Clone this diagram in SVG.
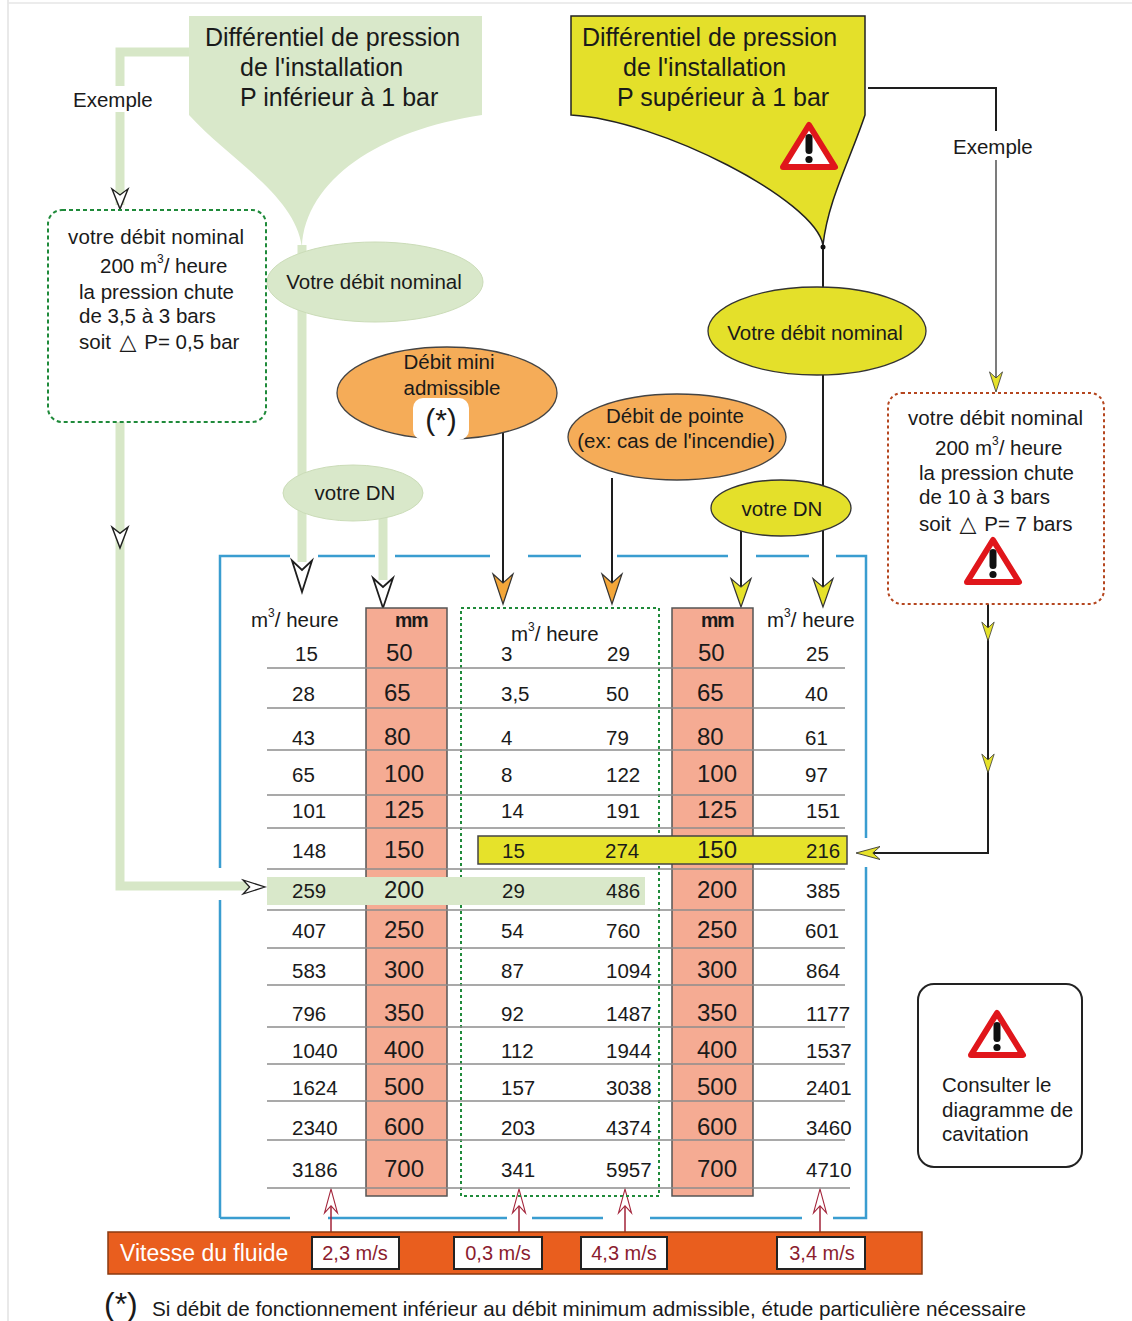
<svg xmlns="http://www.w3.org/2000/svg" width="1132" height="1321" viewBox="0 0 1132 1321">
<style>
text{font-family:"Liberation Sans",Arial,"DejaVu Sans",sans-serif;fill:#1a1a1a}
.t{font-size:20.5px}
.ttl{font-size:25px}
.big{font-size:24px}
.mm{font-size:19.5px;font-weight:bold;letter-spacing:-1px}
.mid{text-anchor:middle}
.gfill{fill:#d9e8ca}
.gline{stroke:#d7e7c7;stroke-width:9;fill:none}
.bline{stroke:#1e1e1e;stroke-width:2;fill:none}
.glin{stroke:#6e6e6e;stroke-width:1.8;fill:none}
.rline{stroke:#a3243a;stroke-width:1.5;fill:none}
.hollow{fill:#fff;stroke:#1e1e1e;stroke-width:1.8}
.ora{fill:#f4a73a;stroke:#333;stroke-width:1.2}
.yel{fill:#e6e22a;stroke:#333;stroke-width:1.2}
.redh{fill:#fff;stroke:#a3243a;stroke-width:1.6}
.blue{stroke:#3a9dd0;stroke-width:2.5;fill:none}
.row{stroke:#8c8c8c;stroke-width:1.5}
.salmon{fill:#f5ab93;stroke:#555;stroke-width:1.5}
.ms{font-size:20px;fill:#8b1c2e;text-anchor:middle}
.msbox{fill:#fff;stroke:#222;stroke-width:2}
.tri{font-size:22px}
</style>
<defs>
<path id="ah" d="M0,0 L-10,-30 L0,-21 L10,-30 Z"/>
<g id="warn">
<path d="M0,-21 L26,21 L-26,21 Z" fill="#fff" stroke="#e0161b" stroke-width="6" stroke-linejoin="round"/>
<rect x="-3.5" y="-12" width="7" height="20" rx="3.5" fill="#111"/>
<circle cx="0" cy="13.5" r="3.6" fill="#111"/>
</g>
</defs>
<rect width="1132" height="1321" fill="#fff"/>
<line x1="8" y1="0" x2="8" y2="1321" stroke="#e2e2e2" stroke-width="1.5"/>
<line x1="8" y1="3" x2="1132" y2="3" stroke="#e6e6e6" stroke-width="1.5"/>

<!-- blue frame -->
<g id="frame">
<path class="blue" d="M220,1218 V900 M220,868 V556 H290 M318,556 H375 M395,556 H490 M528,556 H581 M617,556 H728 M756,556 H809 M836,556 H866 V838 M866,867 V1218 H833 M802,1218 H650 M603,1218 H532 M507,1218 H328 M290,1218 H220"/>
</g>

<!-- connectors -->
<g id="connectors">
<path class="gline" d="M189,52 H120 V205"/>
<path class="gline" d="M120,422 V886 H250"/>
<path class="gline" d="M302,245 V562"/>
<path class="gline" d="M383,515 V580"/>
<path class="bline" d="M503,430 V600"/>
<path class="bline" d="M612,478 V600"/>
<path class="bline" d="M823,245 V600"/>
<path class="bline" d="M741,530 V600"/>
<path class="bline" d="M868,88 H996 V131"/>
<path class="glin" d="M996,160 V388"/>
<path class="bline" d="M988,604 V853 H862"/>
<path class="rline" d="M331,1237 V1192 M519,1237 V1192 M625,1237 V1192 M820,1237 V1192"/>
<use href="#ah" class="hollow" transform="translate(120,209) scale(0.8,0.67)"/>
<use href="#ah" class="hollow" transform="translate(120,548) scale(0.8,0.7)"/>
<use href="#ah" class="hollow" transform="translate(265,887) rotate(-90) scale(0.7,0.73)"/>
<use href="#ah" class="hollow" transform="translate(302,592) scale(1,1.05)"/>
<use href="#ah" class="hollow" transform="translate(383,608) scale(1,1)"/>
<use href="#ah" class="ora" transform="translate(503,604)"/>
<use href="#ah" class="ora" transform="translate(612,604)"/>
<use href="#ah" class="yel" transform="translate(741,607) scale(1,0.95)"/>
<use href="#ah" class="yel" transform="translate(823,607) scale(1,0.95)"/>
<use href="#ah" class="yel" transform="translate(996,392) scale(0.65,0.67)"/>
<use href="#ah" class="yel" transform="translate(988,641) scale(0.62,0.63)"/>
<use href="#ah" class="yel" transform="translate(988,773) scale(0.62,0.63)"/>
<use href="#ah" class="yel" transform="translate(856,853) rotate(90) scale(0.65,0.8)"/>
<use href="#ah" class="redh" transform="translate(331,1189) rotate(180) scale(0.65,0.8)"/>
<use href="#ah" class="redh" transform="translate(519,1189) rotate(180) scale(0.65,0.8)"/>
<use href="#ah" class="redh" transform="translate(625,1189) rotate(180) scale(0.65,0.8)"/>
<use href="#ah" class="redh" transform="translate(820,1189) rotate(180) scale(0.65,0.8)"/>
<rect x="68" y="86" width="90" height="26" fill="#fff"/>
<text class="t" x="73" y="107">Exemple</text>
<text class="t" x="953" y="154">Exemple</text>
</g>

<!-- funnel low pressure -->
<g id="funnel-low">
<path class="gfill" d="M189,16 H482 V115 C380,130 305,180 302,247 C295,195 230,160 189,115 Z"/>
<text class="ttl" x="205" y="46">Différentiel de pression</text>
<text class="ttl" x="240" y="76">de l'installation</text>
<text class="ttl" x="240" y="106">P inférieur à 1 bar</text>
</g>

<!-- funnel high pressure -->
<g id="funnel-high">
<path d="M571,16 H865 V115 C850,160 828,200 823,245 C815,200 660,120 571,115 Z" fill="#e4e02a" stroke="#222" stroke-width="1.5"/>
<circle cx="823" cy="247" r="2.5" fill="#111"/>
<text class="ttl" x="582" y="46">Différentiel de pression</text>
<text class="ttl" x="623" y="76">de l'installation</text>
<text class="ttl" x="617" y="106">P supérieur à 1 bar</text>
<use href="#warn" transform="translate(809,146)"/>
</g>

<g id="nominal-low">
<ellipse cx="375" cy="282" rx="108" ry="40" fill="#d9e8ca" stroke="#cbdcb8" stroke-width="1"/>
<text class="t mid" x="374" y="289">Votre débit nominal</text>
</g>
<g id="dn-low">
<ellipse cx="353" cy="493" rx="70" ry="28" fill="#d9e8ca" stroke="#cbdcb8" stroke-width="1"/>
<text class="t mid" x="355" y="500">votre DN</text>
</g>
<g id="debit-mini">
<ellipse cx="447" cy="393" rx="110" ry="46" fill="#f5ac58" stroke="#444" stroke-width="1.3"/>
<text class="t mid" x="449" y="369">Débit mini</text>
<text class="t mid" x="452" y="395">admissible</text>
<rect x="413" y="398" width="56" height="42" rx="10" fill="#fff"/>
<text class="mid" x="441" y="430" style="font-size:30px">(*)</text>
</g>
<g id="debit-pointe">
<ellipse cx="677" cy="437" rx="109" ry="43" fill="#f5ac58" stroke="#444" stroke-width="1.3"/>
<text class="t mid" x="675" y="423">Débit de pointe</text>
<text class="t mid" x="676" y="448">(ex: cas de l'incendie)</text>
</g>
<g id="nominal-high">
<ellipse cx="817" cy="331" rx="109" ry="44" fill="#e4e02a" stroke="#333" stroke-width="1.3"/>
<text class="t mid" x="815" y="340">Votre débit nominal</text>
</g>
<g id="dn-high">
<ellipse cx="781" cy="508" rx="70" ry="28" fill="#e4e02a" stroke="#333" stroke-width="1.3"/>
<text class="t mid" x="782" y="516">votre DN</text>
</g>

<g id="example-low">
<rect x="48" y="210" width="218" height="212" rx="14" fill="none" stroke="#1f8a3a" stroke-width="2" stroke-dasharray="4,3"/>
<text class="t" x="68" y="244" textLength="176">votre débit nominal</text>
<text class="t" x="100" y="273">200 m<tspan dy="-10" style="font-size:12px">3</tspan><tspan dy="10">/ heure</tspan></text>
<text class="t" x="79" y="299">la pression chute</text>
<text class="t" x="79" y="323">de 3,5 à 3 bars</text>
<text class="t" x="79" y="349">soit <tspan class="tri" dx="3">△</tspan> <tspan dx="2">P= 0,5 bar</tspan></text>
</g>

<g id="example-high">
<rect x="888" y="393" width="216" height="211" rx="14" fill="none" stroke="#b5461f" stroke-width="2" stroke-dasharray="3,3"/>
<text class="t" x="908" y="425" textLength="175">votre débit nominal</text>
<text class="t" x="935" y="455">200  m<tspan dy="-10" style="font-size:12px">3</tspan><tspan dy="10">/ heure</tspan></text>
<text class="t" x="919" y="480">la pression chute</text>
<text class="t" x="919" y="504">de 10 à 3 bars</text>
<text class="t" x="919" y="531">soit <tspan class="tri" dx="3">△</tspan> <tspan dx="2">P= 7 bars</tspan></text>
<use href="#warn" transform="translate(993,561)"/>
</g>

<g id="cavitation">
<rect x="918" y="984" width="164" height="183" rx="16" fill="#fff" stroke="#222" stroke-width="2"/>
<use href="#warn" transform="translate(997,1034)"/>
<text class="t" x="942" y="1092">Consulter le</text>
<text class="t" x="942" y="1117">diagramme de</text>
<text class="t" x="942" y="1141">cavitation</text>
</g>

<!-- table -->
<g id="table">
<rect class="salmon" x="366" y="608" width="81" height="588"/>
<rect class="salmon" x="672" y="608" width="81" height="588"/>
<rect x="461" y="608" width="198" height="588" fill="none" stroke="#1f8a3a" stroke-width="2" stroke-dasharray="3,3"/>
<g class="row">
<line x1="267" y1="668" x2="845" y2="668"/>
<line x1="267" y1="708" x2="845" y2="708"/>
<line x1="267" y1="750" x2="845" y2="750"/>
<line x1="267" y1="795" x2="845" y2="795"/>
<line x1="267" y1="828" x2="845" y2="828"/>
<line x1="267" y1="869" x2="845" y2="869"/>
<line x1="267" y1="910" x2="845" y2="910"/>
<line x1="267" y1="948" x2="845" y2="948"/>
<line x1="267" y1="985" x2="845" y2="985"/>
<line x1="267" y1="1027" x2="845" y2="1027"/>
<line x1="267" y1="1064" x2="845" y2="1064"/>
<line x1="267" y1="1101" x2="845" y2="1101"/>
<line x1="267" y1="1140" x2="845" y2="1140"/>
<line x1="267" y1="1188" x2="850" y2="1188"/>
</g>
<rect x="267" y="877" width="378" height="28" fill="#d9e8ca"/>
<rect x="478" y="836" width="369" height="28" fill="#e6e22a" stroke="#444" stroke-width="1.5"/>

<text class="t" x="251" y="627">m<tspan dy="-10" style="font-size:12px">3</tspan><tspan dy="10">/ heure</tspan></text>
<text class="t" x="511" y="641">m<tspan dy="-10" style="font-size:12px">3</tspan><tspan dy="10">/ heure</tspan></text>
<text class="t" x="767" y="627">m<tspan dy="-10" style="font-size:12px">3</tspan><tspan dy="10">/ heure</tspan></text>
<text class="mm" x="395" y="627">mm</text>
<text class="mm" x="701" y="627">mm</text>

<g class="t">
<text class="t" x="295" y="661">15</text>
<text class="t" x="292" y="701">28</text>
<text class="t" x="292" y="745">43</text>
<text class="t" x="292" y="782">65</text>
<text class="t" x="292" y="818">101</text>
<text class="t" x="292" y="858">148</text>
<text class="t" x="292" y="898">259</text>
<text class="t" x="292" y="938">407</text>
<text class="t" x="292" y="978">583</text>
<text class="t" x="292" y="1021">796</text>
<text class="t" x="292" y="1058">1040</text>
<text class="t" x="292" y="1095">1624</text>
<text class="t" x="292" y="1135">2340</text>
<text class="t" x="292" y="1177">3186</text>

<text class="t" x="501" y="661">3</text>
<text class="t" x="501" y="701">3,5</text>
<text class="t" x="501" y="745">4</text>
<text class="t" x="501" y="782">8</text>
<text class="t" x="501" y="818">14</text>
<text class="t" x="502" y="858">15</text>
<text class="t" x="502" y="898">29</text>
<text class="t" x="501" y="938">54</text>
<text class="t" x="501" y="978">87</text>
<text class="t" x="501" y="1021">92</text>
<text class="t" x="501" y="1058">112</text>
<text class="t" x="501" y="1095">157</text>
<text class="t" x="501" y="1135">203</text>
<text class="t" x="501" y="1177">341</text>

<text class="t" x="607" y="661">29</text>
<text class="t" x="606" y="701">50</text>
<text class="t" x="606" y="745">79</text>
<text class="t" x="606" y="782">122</text>
<text class="t" x="606" y="818">191</text>
<text class="t" x="605" y="858">274</text>
<text class="t" x="606" y="898">486</text>
<text class="t" x="606" y="938">760</text>
<text class="t" x="606" y="978">1094</text>
<text class="t" x="606" y="1021">1487</text>
<text class="t" x="606" y="1058">1944</text>
<text class="t" x="606" y="1095">3038</text>
<text class="t" x="606" y="1135">4374</text>
<text class="t" x="606" y="1177">5957</text>

<text class="t" x="806" y="661">25</text>
<text class="t" x="805" y="701">40</text>
<text class="t" x="805" y="745">61</text>
<text class="t" x="805" y="782">97</text>
<text class="t" x="806" y="818">151</text>
<text class="t" x="806" y="858">216</text>
<text class="t" x="806" y="898">385</text>
<text class="t" x="805" y="938">601</text>
<text class="t" x="806" y="978">864</text>
<text class="t" x="806" y="1021">1177</text>
<text class="t" x="806" y="1058">1537</text>
<text class="t" x="806" y="1095">2401</text>
<text class="t" x="806" y="1135">3460</text>
<text class="t" x="806" y="1177">4710</text>
</g>

<g class="big">
<text class="big" x="386" y="661">50</text>
<text class="big" x="384" y="701">65</text>
<text class="big" x="384" y="745">80</text>
<text class="big" x="384" y="782">100</text>
<text class="big" x="384" y="818">125</text>
<text class="big" x="384" y="858">150</text>
<text class="big" x="384" y="898">200</text>
<text class="big" x="384" y="938">250</text>
<text class="big" x="384" y="978">300</text>
<text class="big" x="384" y="1021">350</text>
<text class="big" x="384" y="1058">400</text>
<text class="big" x="384" y="1095">500</text>
<text class="big" x="384" y="1135">600</text>
<text class="big" x="384" y="1177">700</text>

<text class="big" x="698" y="661">50</text>
<text class="big" x="697" y="701">65</text>
<text class="big" x="697" y="745">80</text>
<text class="big" x="697" y="782">100</text>
<text class="big" x="697" y="818">125</text>
<text class="big" x="697" y="858">150</text>
<text class="big" x="697" y="898">200</text>
<text class="big" x="697" y="938">250</text>
<text class="big" x="697" y="978">300</text>
<text class="big" x="697" y="1021">350</text>
<text class="big" x="697" y="1058">400</text>
<text class="big" x="697" y="1095">500</text>
<text class="big" x="697" y="1135">600</text>
<text class="big" x="697" y="1177">700</text>
</g>
</g>

<!-- velocity bar -->
<g id="vitesse">
<rect x="108" y="1232" width="814" height="42" fill="#e95e1e" stroke="#8a3a10" stroke-width="1.5"/>
<text x="120" y="1261" style="font-size:23px;fill:#fff">Vitesse du fluide</text>
<rect class="msbox" x="312" y="1237" width="87" height="32"/>
<text class="ms" x="355" y="1260">2,3 m/s</text>
<rect class="msbox" x="454" y="1237" width="88" height="32"/>
<text class="ms" x="498" y="1260">0,3 m/s</text>
<rect class="msbox" x="581" y="1237" width="86" height="32"/>
<text class="ms" x="624" y="1260">4,3 m/s</text>
<rect class="msbox" x="777" y="1237" width="88" height="32"/>
<text class="ms" x="822" y="1260">3,4 m/s</text>
</g>

<g id="footnote">
<text x="104" y="1315" style="font-size:32px">(*)</text>
<text x="152" y="1316" style="font-size:20.7px">Si débit de fonctionnement inférieur au débit minimum admissible, étude particulière nécessaire</text>
</g>
</svg>
